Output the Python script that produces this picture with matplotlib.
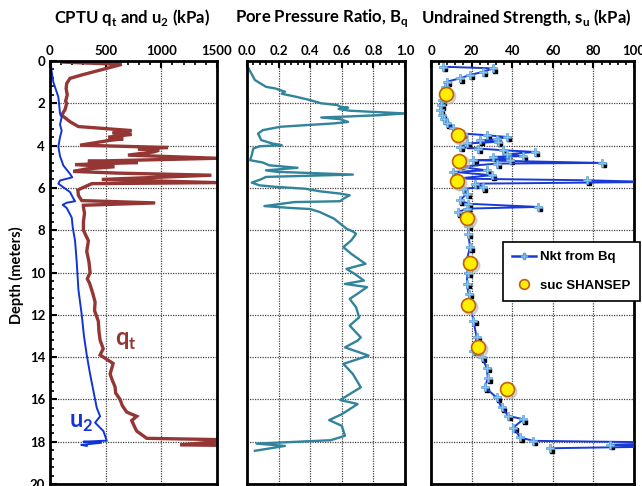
import matplotlib
matplotlib.use("Agg")
import matplotlib.pyplot as plt
import matplotlib.transforms as mtransforms
from matplotlib.ticker import MultipleLocator
from matplotlib.lines import Line2D
import numpy as np

# ---------------- data ----------------
qt_depth = [0.05, 0.16, 0.66, 0.82, 1.06, 1.3, 1.6, 1.9, 2.0, 2.3, 2.56, 2.87, 3.1, 3.29, 3.4, 3.47,
            3.6, 3.68, 3.75, 3.98, 4.09, 4.15, 4.22, 4.3, 4.45, 4.6, 4.74, 4.8, 4.9, 5.0, 5.1,
            5.22, 5.3, 5.4, 5.6, 5.75, 5.8, 6.0, 6.1, 6.35, 6.6, 6.71, 6.82, 6.9, 7.2, 7.6, 8.0,
            8.5, 9.0, 9.5, 10.0, 10.3, 10.5, 11.0, 11.4, 11.8, 12.3, 12.8, 13.2, 13.6, 13.9, 14.3,
            14.8, 15.1, 15.4, 15.7, 16.0, 16.3, 16.6, 16.8, 17.0, 17.3, 17.5, 17.84, 17.9, 18.0,
            18.15, 18.17]
qt_vals = [110, 644, 285, 180, 150, 145, 155, 140, 150, 135, 105, 180, 255, 734, 560, 734,
           523, 658, 540, 270, 1060, 790, 980, 930, 700, 1500, 340, 790, 225, 580, 330,
           210, 600, 1450, 465, 1500, 375, 290, 250, 255, 285, 945, 300, 300, 310, 300, 300,
           345, 330, 350, 360, 335, 355, 385, 405, 400, 434, 440, 450, 478, 450, 567,
           540, 560, 584, 590, 629, 650, 689, 779, 734, 760, 779, 869, 1500, 1500,
           1168, 1500]

u2_depth = [0.05, 0.5, 1.0, 1.7, 2.48, 2.65, 3.0, 3.3, 3.6, 4.05, 4.5, 4.94, 5.34, 5.5, 5.65, 5.8,
            6.2, 6.5, 6.63, 6.7, 6.8, 6.95, 7.4, 7.9, 8.5, 9.5, 10.8, 12.0, 13.0, 13.9, 14.8,
            15.6, 16.4, 16.8, 17.1, 17.5, 17.95, 18.0, 18.05, 18.15, 18.2]
u2_vals = [6, 15, 30, 75, 90, 105, 90, 105, 90, 75, 90, 120, 180, 200, 90, 75,
           180, 210, 225, 150, 114, 150, 195, 205, 225, 240, 255, 285, 305, 330, 360,
           390, 420, 450, 405, 480, 510, 300, 460, 280, 330]

bq_depth = [0.35, 0.9, 1.22, 1.3, 1.38, 1.45, 1.55, 1.69, 1.85, 2.0, 2.08, 2.16, 2.21, 2.27, 2.35,
            2.48, 2.56, 2.62, 2.67, 2.75, 2.88, 2.95, 3.11, 3.27, 3.43, 3.74, 3.9, 3.98, 4.03,
            4.14, 4.45, 4.69, 4.8, 4.93, 5.05, 5.17, 5.24, 5.37, 5.48, 5.59, 5.75, 5.88, 5.95,
            6.04, 6.16, 6.27, 6.35, 6.51, 6.63, 6.67, 6.86, 6.95, 7.0, 7.14, 7.45, 7.69, 7.93,
            8.06, 8.17, 8.48, 8.8, 9.12, 9.59, 9.83, 10.06, 10.38, 10.54, 10.69, 11.0, 11.25,
            11.64, 12.12, 12.51, 13.07, 13.22, 13.54, 13.93, 14.32, 14.8, 15.43, 15.75, 16.03,
            16.22, 16.7, 16.98, 17.25, 17.72, 17.93, 18.09, 18.2, 18.43]
bq_vals = [0.01, 0.05, 0.12, 0.18, 0.21, 0.24, 0.22, 0.31, 0.40, 0.47, 0.57, 0.59, 0.64, 0.58, 0.65,
           1.00, 0.84, 0.65, 0.47, 0.59, 0.64, 0.55, 0.21, 0.10, 0.07, 0.09, 0.16, 0.22, 0.08,
           0.04, 0.03, 0.02, 0.10, 0.14, 0.32, 0.12, 0.19, 0.67, 0.12, 0.09, 0.03, 0.08, 0.18,
           0.37, 0.46, 0.59, 0.65, 0.61, 0.59, 0.30, 0.11, 0.28, 0.40, 0.46, 0.55, 0.59, 0.63,
           0.67, 0.69, 0.66, 0.61, 0.66, 0.75, 0.63, 0.68, 0.74, 0.62, 0.76, 0.70, 0.65,
           0.69, 0.71, 0.65, 0.72, 0.70, 0.62, 0.77, 0.61, 0.67, 0.72, 0.65, 0.59,
           0.70, 0.60, 0.52, 0.60, 0.62, 0.53, 0.06, 0.24, 0.05]

su_depth = [0.27, 0.35, 0.51, 0.66, 0.82, 0.98, 1.22, 1.5, 1.85, 2.1, 2.32, 2.56, 2.75, 2.95, 3.19,
            3.43, 3.51, 3.59, 3.71, 3.74, 3.82, 3.9, 4.06, 4.14, 4.22, 4.3, 4.41, 4.5, 4.53,
            4.66, 4.69, 4.82, 4.85, 5.0, 5.17, 5.24, 5.4, 5.56, 5.64, 5.72, 5.8, 5.96, 6.04,
            6.27, 6.59, 6.75, 6.9, 6.98, 7.14, 7.38, 7.8, 8.17, 8.8, 9.43, 10.0, 10.54, 11.0,
            11.48, 12.27, 13.07, 13.7, 14.0, 14.5, 15.0, 15.43, 15.91, 16.38, 16.78, 16.94,
            17.33, 17.8, 17.96, 18.04, 18.15, 18.22, 18.31]
su_vals = [6.0, 30.7, 25.8, 19.2, 14.3, 7.7, 6.9, 5.8, 5.3, 4.8, 4.4, 5.3, 6.5, 7.7, 11.0,
           15.9, 27.4, 37.3, 32.3, 24.1, 33.0, 17.6, 14.3, 23.3, 35.6, 51.2, 37.3, 45.5, 30.7,
           39.0, 20.9, 84.1, 32.3, 14.3, 27.4, 11.0, 29.9, 12.6, 76.7, 110.0, 21.7, 25.8, 15.9,
           17.6, 14.3, 18.4, 52.9, 17.6, 13.5, 17.6, 18.0, 18.4, 19.2, 17.6, 18.0, 17.6, 18.5,
           19.2, 20.9, 22.5, 20.9, 25.0, 27.4, 28.0, 26.6, 32.3, 34.8, 38.1, 45.5,
           40.6, 43.9, 50.4, 120.0, 88.2, 120.0, 58.6]

shansep_depth = [1.55, 3.51, 4.72, 5.69, 7.43, 9.56, 11.53, 13.54, 15.51]
shansep_vals = [7.4, 13.5, 14.0, 12.6, 17.6, 19.0, 18.1, 23.0, 37.6]

# ---------------- styling ----------------
W, H = 642, 486
fig = plt.figure(figsize=(W / 100, H / 100), dpi=100)
TFONT = "Lato"

def px_axes(left, top, right, bottom):
    return fig.add_axes([left / W, 1 - bottom / H, (right - left) / W, (bottom - top) / H])

def style(ax, xlim, xmaj, xmin, show_y):
    ax.set_ylim(20, 0)
    ax.set_xlim(*xlim)
    ax.xaxis.tick_top()
    ax.xaxis.set_major_locator(MultipleLocator(xmaj))
    ax.xaxis.set_minor_locator(MultipleLocator(xmin))
    ax.yaxis.set_major_locator(MultipleLocator(2))
    ax.grid(True, which="major", linestyle=(0, (1, 1)), color="#444444", linewidth=0.9)
    for s in ax.spines.values():
        s.set_linewidth(2.0)
        s.set_color("black")
    ax.tick_params(axis="x", which="major", direction="in", length=5, width=1.5, pad=3,
                   labelsize=9.5, top=True, bottom=False)
    ax.tick_params(axis="x", which="minor", direction="in", length=3, width=1.2, top=True, bottom=False)
    if show_y:
        ax.yaxis.set_minor_locator(MultipleLocator(0.4))
        ax.tick_params(axis="y", which="major", direction="in", length=5, width=1.5, labelsize=9.5)
        ax.tick_params(axis="y", which="minor", direction="in", length=3, width=1.2)
    else:
        ax.tick_params(axis="y", which="both", left=False, labelleft=False)

# Panel 1
ax1 = px_axes(50, 61, 217, 484)
style(ax1, (0, 1500), 500, 100, True)
ax1.set_xticks([0, 500, 1000, 1500])
ax1.set_yticks(range(0, 21, 2))
for lab in ax1.get_xticklabels() + ax1.get_yticklabels():
    lab.set_fontweight("bold"); lab.set_fontfamily(TFONT)
ax1.plot(qt_vals, qt_depth, color="#943634", linewidth=2.4, solid_joinstyle="miter")
ax1.plot(u2_vals, u2_depth, color="#1034d6", linewidth=1.4)
ax1.text(580, 13.2, r"q$_\mathregular{t}$", color="#943634", fontsize=17, fontweight="bold",
         family=TFONT, va="center", ha="left")
ax1.text(175, 17.1, r"u$_\mathregular{2}$", color="#1034d6", fontsize=17, fontweight="bold",
         family=TFONT, va="center", ha="left")
fig.text(16 / W, 1 - 275 / H, "Depth (meters)", rotation=90, ha="center", va="center",
         fontsize=10.5, fontweight="bold", family=TFONT)

# Panel 2
ax2 = px_axes(247, 61, 405, 484)
style(ax2, (0, 1.0), 0.2, 0.04, False)
ax2.set_xticks(np.arange(0, 1.01, 0.2))
ax2.set_xticklabels(["0.0", "0.2", "0.4", "0.6", "0.8", "1.0"], fontweight="bold", family=TFONT)
ax2.plot(bq_vals, bq_depth, color="#31849B", linewidth=1.7)

# Panel 3
ax3 = px_axes(431, 61, 634, 484)
style(ax3, (0, 100), 20, 4, False)
ax3.set_xticks(range(0, 101, 20))
for lab in ax3.get_xticklabels():
    lab.set_fontweight("bold"); lab.set_fontfamily(TFONT)
shadow = mtransforms.offset_copy(ax3.transData, fig=fig, x=1.5, y=-1.8, units="points")
ax3.plot(su_vals, su_depth, linestyle="none", marker="s", markersize=3.2, color="black",
         transform=shadow, zorder=2)
ax3.plot(su_vals, su_depth, color="#1a3ad6", linewidth=1.4, zorder=3)
ax3.plot(su_vals, su_depth, linestyle="none", marker="P", markersize=5.5,
         markerfacecolor="#8cc3ea", markeredgecolor="#5aa0d8", markeredgewidth=0.5, zorder=4)
cshadow = mtransforms.offset_copy(ax3.transData, fig=fig, x=1.5, y=-1.5, units="points")
ax3.plot(shansep_vals, shansep_depth, linestyle="none", marker="o", markersize=10.5,
         color="#bbbbbb", alpha=0.6, transform=cshadow, zorder=5)
ax3.plot(shansep_vals, shansep_depth, linestyle="none", marker="o", markersize=10,
         markerfacecolor="#ffee00", markeredgecolor="#c0600a", markeredgewidth=1.2, zorder=6)

h1 = Line2D([], [], color="#1a3ad6", linewidth=1.8, marker="P", markersize=5,
            markerfacecolor="#8cc3ea", markeredgecolor="#5aa0d8")
h2 = Line2D([], [], linestyle="none", marker="o", markersize=7,
            markerfacecolor="#ffee00", markeredgecolor="#c0600a", markeredgewidth=1.2)
leg = ax3.legend([h1, h2], ["Nkt from Bq", "suc SHANSEP"], loc="upper left",
                 bbox_to_anchor=((503 - 431) / 203, 1 - (242 - 61) / 423),
                 prop={"family": "Liberation Sans", "weight": "bold", "size": 9.5},
                 frameon=True, fancybox=False, edgecolor="black", framealpha=1,
                 handlelength=1.8, handletextpad=0.3, labelspacing=1.2, borderpad=0.7,
                 borderaxespad=0)
leg.get_frame().set_linewidth(1.2)
leg.set_zorder(10)

# Titles
tkw = dict(ha="center", va="center", fontsize=12, fontweight="bold", family=TFONT)
fig.text(132.5 / W, 1 - 18 / H, r"CPTU q$_\mathregular{t}$ and u$_\mathregular{2}$ (kPa)", **tkw)
fig.text(322 / W, 1 - 18 / H, r"Pore Pressure Ratio, B$_\mathregular{q}$", **tkw)
fig.text(526 / W, 1 - 18 / H, r"Undrained Strength, s$_\mathregular{u}$ (kPa)", **tkw)

fig.savefig("out.png", dpi=100)
